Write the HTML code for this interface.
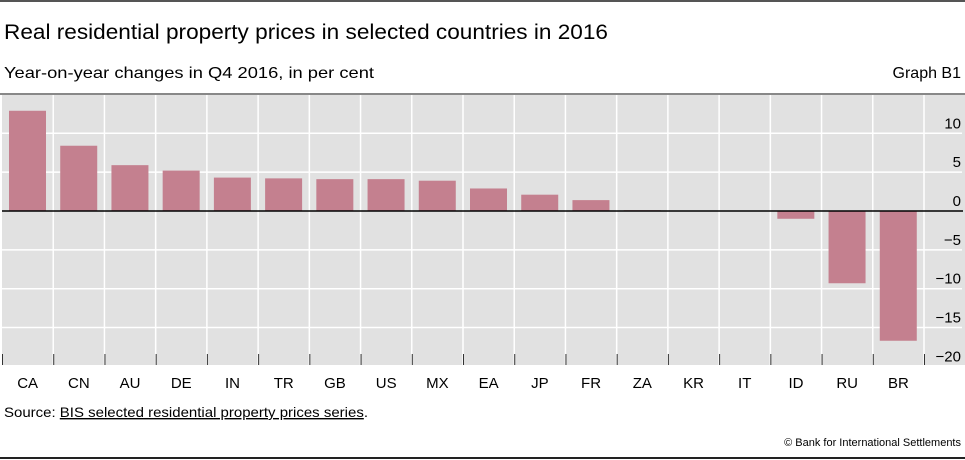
<!DOCTYPE html>
<html><head><meta charset="utf-8"><style>
html,body{margin:0;padding:0;background:#fff;}
svg{display:block;font-family:"Liberation Sans",sans-serif;}
</style></head><body>
<svg id="chart" width="965" height="460" viewBox="0 0 965 460">
<rect x="0" y="0" width="965" height="2" fill="#555"/>
<text x="4" y="39" font-size="21" fill="#000" textLength="604" lengthAdjust="spacingAndGlyphs">Real residential property prices in selected countries in 2016</text>
<text x="4" y="78" font-size="16" fill="#000" textLength="370" lengthAdjust="spacingAndGlyphs">Year-on-year changes in Q4 2016, in per cent</text>
<text x="961" y="78" font-size="16" text-anchor="end" fill="#000">Graph B1</text>
<rect x="0" y="93" width="965" height="2" fill="#888"/>
<rect x="2" y="95" width="963" height="270" fill="#e1e1e1"/>
<g id="grid"></g>
<g id="bars"></g>
<g id="axes"></g>
<text x="4" y="417" font-size="14" fill="#000" textLength="364" lengthAdjust="spacingAndGlyphs">Source: <tspan text-decoration="underline">BIS selected residential property prices series</tspan>.</text>
<text x="961" y="446" font-size="11" text-anchor="end" fill="#000">© Bank for International Settlements</text>
<rect x="0" y="457" width="965" height="2" fill="#222"/>
</svg>
<script>
const categories = ["CA","CN","AU","DE","IN","TR","GB","US","MX","EA","JP","FR","ZA","KR","IT","ID","RU","BR"];
const values = [12.9,8.4,5.9,5.2,4.3,4.2,4.1,4.1,3.9,2.9,2.1,1.4,0.1,0,0,-1.0,-9.3,-16.7];
const yTicks = [10,5,0,-5,-10,-15,-20];
const yTickLabels = ["10","5","0","\u22125","\u221210","\u221215","\u221220"];

const NS = "http://www.w3.org/2000/svg";
const plotL = 2, plotR = 924, y0px = 211, pxPerUnit = 7.77;
const colW = (plotR - plotL) / categories.length;
function yScale(v){ return y0px - v * pxPerUnit; }
function xScale(i){ return plotL + i * colW; }
function mk(tag, attrs, parent){ const e = document.createElementNS(NS, tag); for (const k in attrs) e.setAttribute(k, attrs[k]); parent.appendChild(e); return e; }

const grid = document.getElementById('grid');
const bars = document.getElementById('bars');
const axes = document.getElementById('axes');

yTicks.forEach((t, i) => {
  if (t !== 0 && t > -20) {
    const l = mk('line', {x1: plotL, x2: 962, y1: yScale(t), y2: yScale(t), stroke: '#fff', 'stroke-width': 1.5}, grid);
    
    
  }
  const tx = mk('text', {x: 961, y: yScale(t) - 5, 'font-size': 15, 'text-anchor': 'end', fill: '#000'}, axes);
  tx.textContent = yTickLabels[i];
  
  
});

for (let i = 1; i <= categories.length; i++) {
  const l = mk('line', {x1: xScale(i), x2: xScale(i), y1: 95, y2: 365, stroke: '#fff', 'stroke-width': 1.5}, grid);
  
  
}

categories.forEach((c, i) => {
  const v = values[i];
  const top = Math.min(yScale(v), yScale(0));
  const h = Math.abs(yScale(v) - yScale(0));
  const r = mk('rect', {x: xScale(i) + 7, y: top, width: 37, height: Math.max(h, 0.01), fill: '#c4808f'}, bars);
  
  
  const tk = mk('line', {x1: xScale(i) + 0.5, x2: xScale(i) + 0.5, y1: 354, y2: 365, stroke: '#333', 'stroke-width': 1}, axes);
  
  
  const tx = mk('text', {x: xScale(i) + colW / 2, y: 388, 'font-size': 15, 'text-anchor': 'middle', fill: '#000'}, axes);
  tx.textContent = c;
  
  
});
const lt = mk('line', {x1: xScale(categories.length) + 0.5, x2: xScale(categories.length) + 0.5, y1: 354, y2: 365, stroke: '#333', 'stroke-width': 1}, axes);



const zl = mk('line', {x1: plotL, x2: 963, y1: yScale(0), y2: yScale(0), stroke: '#000', 'stroke-width': 1.5}, axes);


</script>
</body></html>
